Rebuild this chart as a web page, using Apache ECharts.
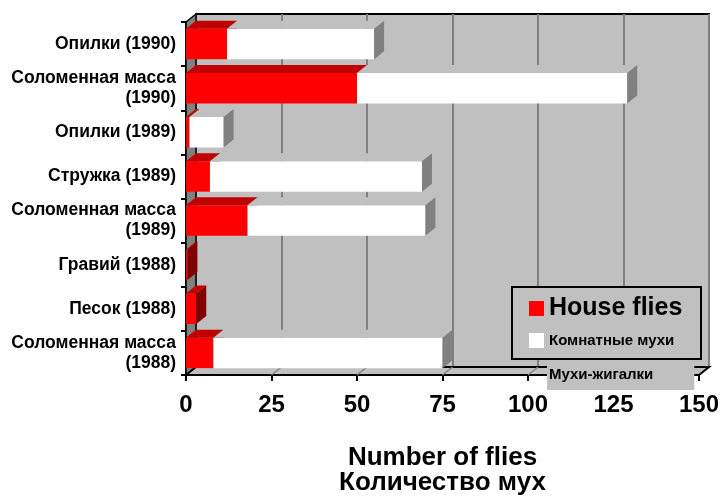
<!DOCTYPE html>
<html>
<head>
<meta charset="utf-8">
<script src="https://cdn.jsdelivr.net/npm/echarts@6/dist/echarts.min.js"></script>
<style>
  html, body { margin: 0; padding: 0; background: #fff; }
  #chart { width: 722px; height: 497px; }
</style>
</head>
<body>
<div id="chart"></div>
<script>
// categories top to bottom
var categories = [
  "Опилки (1990)",
  "Соломенная масса\n(1990)",
  "Опилки (1989)",
  "Стружка (1989)",
  "Соломенная масса\n(1989)",
  "Гравий (1988)",
  "Песок (1988)",
  "Соломенная масса\n(1988)"
];
var houseFlies = [12, 50, 1, 7, 18, 0.4, 3, 8];     // red
var roomFlies = [43, 79, 10, 62, 52, 0, 0, 67];     // white
var stableFlies = [0, 0, 0, 0, 0, 0, 0, 0];         // Мухи-жигалки
var xMin = 0, xMax = 150, xStep = 25;

var FONT = "'Liberation Sans', Arial, sans-serif";
var DX = 10, DY = -8; // 3d depth

function bar3d(front, top, side) {
  return function (params, api) {
    var cat = api.value(0), a = api.value(1), b = api.value(2);
    if (!(b > a)) return;
    var p0 = api.coord([a, cat]), p1 = api.coord([b, cat]);
    var h = api.size([0, 1])[1] * 0.69;
    var y0 = p0[1] - h / 2, y1 = p0[1] + h / 2;
    var x0 = p0[0], x1 = p1[0];
    return {
      type: "group",
      children: [
        { type: "rect", shape: { x: x0, y: y0, width: x1 - x0, height: h }, style: { fill: front } },
        { type: "polygon", shape: { points: [[x0, y0], [x1, y0], [x1 + DX, y0 + DY], [x0 + DX, y0 + DY]] }, style: { fill: top } },
        { type: "polygon", shape: { points: [[x1, y0], [x1 + DX, y0 + DY], [x1 + DX, y1 + DY], [x1, y1]] }, style: { fill: side } }
      ]
    };
  };
}

// left wall + floor of the 3d box
function walls(params, api) {
  var cs = params.coordSys;
  var L = cs.x, T = cs.y, B = cs.y + cs.height, R = cs.x + cs.width;
  var kids = [
    { type: "polygon", shape: { points: [[L, T], [L + DX, T + DY], [L + DX, B + DY], [L, B]] },
      style: { fill: "#808080", stroke: "#000", lineWidth: 1.5 } },
    { type: "polygon", shape: { points: [[L, B], [R, B], [R + DX, B + DY], [L + DX, B + DY]] },
      style: { fill: "#c0c0c0", stroke: "#000", lineWidth: 2 } }
  ];
  for (var v = xMin + xStep; v < xMax; v += xStep) {
    var x = api.coord([v, 0])[0];
    kids.push({ type: "line", shape: { x1: x, y1: B, x2: x + DX, y2: B + DY }, style: { stroke: "#808080", lineWidth: 1.5 } });
  }
  return { type: "group", children: kids };
}

var redData = houseFlies.map(function (v, i) { return [i, 0, v]; });
var whiteData = roomFlies.map(function (v, i) { return [i, houseFlies[i], houseFlies[i] + v]; });
var grayData = stableFlies.map(function (v, i) { return [i, houseFlies[i] + roomFlies[i], houseFlies[i] + roomFlies[i] + v]; });

var chart = echarts.init(document.getElementById("chart"));
chart.setOption({
  animation: false,
  textStyle: { fontFamily: FONT },
  grid: [
    { left: 186, top: 22, width: 513, height: 353, outerBoundsMode: "none" },
    { left: 196, top: 14, width: 513, height: 353, outerBoundsMode: "none",
      show: true, backgroundColor: "#c0c0c0", borderColor: "#000", borderWidth: 2 }
  ],
  xAxis: [
    {
      gridIndex: 0, type: "value", min: xMin, max: xMax, interval: xStep,
      axisLine: { show: true, lineStyle: { color: "#000", width: 2 } },
      axisTick: { show: true, length: 6, lineStyle: { color: "#000", width: 2 } },
      axisLabel: { margin: 18, fontSize: 24, fontWeight: "bold", color: "#000", fontFamily: FONT },
      splitLine: { show: false },
      name: "Number of flies\nКоличество мух",
      nameLocation: "middle", nameGap: 70,
      nameTextStyle: { fontSize: 26, fontWeight: "bold", color: "#000", lineHeight: 25, fontFamily: FONT }
    },
    {
      gridIndex: 1, type: "value", min: xMin, max: xMax, interval: xStep,
      axisLine: { show: false }, axisTick: { show: false }, axisLabel: { show: false },
      splitLine: { show: true, lineStyle: { color: "#808080", width: 2 } }
    }
  ],
  yAxis: [
    {
      gridIndex: 0, type: "category", inverse: true, data: categories,
      axisLine: { show: true, lineStyle: { color: "#000", width: 2 } },
      axisTick: { show: true, length: 5, lineStyle: { color: "#000", width: 2 } },
      axisLabel: { margin: 10, fontSize: 17.5, fontWeight: "bold", color: "#000", lineHeight: 20, fontFamily: FONT }
    },
    { gridIndex: 1, type: "category", inverse: true, data: categories, show: false }
  ],
  legend: [
    {
      left: 529, top: 296, orient: "vertical", padding: 0,
      itemWidth: 15, itemHeight: 15, itemGap: 12, icon: "rect", selectedMode: false, z: 6,
      textStyle: { fontWeight: "bold", color: "#000", fontFamily: FONT },
      data: [
        { name: "House flies", textStyle: { fontSize: 25 } },
        { name: "Комнатные мухи", textStyle: { fontSize: 15 } }
      ]
    },
    {
      left: 542, top: 360, orient: "vertical", padding: 0,
      itemWidth: 0, itemHeight: 0, selectedMode: false, z: 6,
      textStyle: { fontWeight: "bold", color: "#000", fontSize: 15, fontFamily: FONT,
        backgroundColor: "#c0c0c0", padding: [7, 41, 8, 2] },
      data: ["Мухи-жигалки"]
    }
  ],
  graphic: [
    { type: "rect", z: 5, shape: { x: 512, y: 287, width: 189, height: 72 },
      style: { fill: "#c0c0c0", stroke: "#000", lineWidth: 2 } }
  ],
  series: [
    { type: "custom", name: "walls", xAxisIndex: 0, yAxisIndex: 0, z: 1, silent: true,
      renderItem: walls, data: [[0, 0]], encode: { x: 0, y: 1 } },
    { type: "custom", name: "House flies", xAxisIndex: 0, yAxisIndex: 0, z: 3,
      itemStyle: { color: "#ff0000" }, renderItem: bar3d("#ff0000", "#c00000", "#800000"),
      data: redData, encode: { x: [1, 2], y: 0 } },
    { type: "custom", name: "Комнатные мухи", xAxisIndex: 0, yAxisIndex: 0, z: 3,
      itemStyle: { color: "#ffffff" }, renderItem: bar3d("#ffffff", "#c0c0c0", "#808080"),
      data: whiteData, encode: { x: [1, 2], y: 0 } },
    { type: "custom", name: "Мухи-жигалки", xAxisIndex: 0, yAxisIndex: 0, z: 3,
      itemStyle: { color: "#c0c0c0" }, renderItem: bar3d("#c0c0c0", "#909090", "#606060"),
      data: grayData, encode: { x: [1, 2], y: 0 } }
  ]
});
</script>
</body>
</html>
